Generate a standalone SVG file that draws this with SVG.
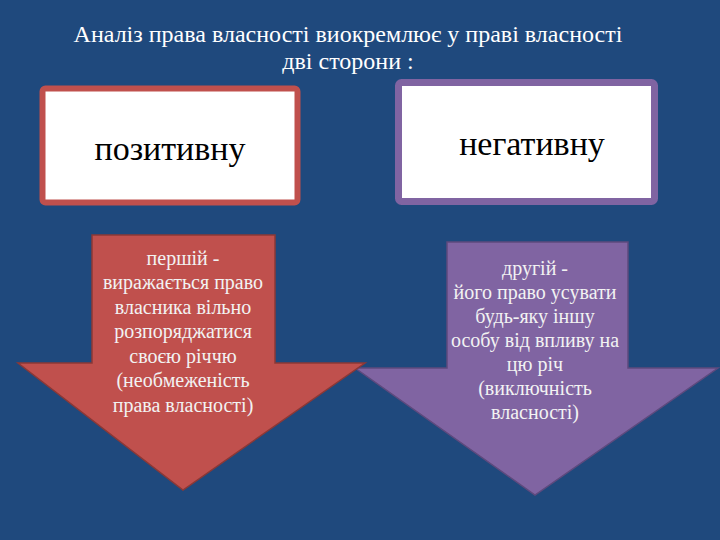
<svg xmlns="http://www.w3.org/2000/svg" width="720" height="540" viewBox="0 0 720 540">
<style>
text{font-family:"Liberation Serif","Times New Roman","DejaVu Serif",serif}
.title{font-size:24px;fill:#ffffff;text-anchor:middle}
.box{font-size:34px;fill:#000000;text-anchor:middle}
.arr{font-size:20px;fill:#f2f2f2;text-anchor:middle}
</style>
<rect x="0" y="0" width="720" height="540" fill="#1f497d"/>
<g id="title">
<text class="title" x="348" y="42">Аналіз права власності виокремлює у праві власності</text>
<text class="title" x="348" y="69">дві сторони :</text>
</g>
<g id="node-positive">
<rect x="42.5" y="88.5" width="255" height="114" rx="3" fill="#ffffff" stroke="#c0504d" stroke-width="6"/>
<text class="box" x="170" y="160">позитивну</text>
</g>
<g id="node-negative">
<rect x="398.5" y="82.5" width="256" height="119" rx="3" fill="#ffffff" stroke="#8064a2" stroke-width="7"/>
<text class="box" x="532" y="155">негативну</text>
</g>
<g id="node-second">
<polygon points="447,242 628,242 628,368 718,368 535,495 355,368 447,368" fill="#8064a2" stroke="#5e4a7e" stroke-width="1.5"/>
<text class="arr" x="535" y="275">другій -</text>
<text class="arr" x="535" y="299">його право усувати</text>
<text class="arr" x="535" y="323">будь-яку іншу</text>
<text class="arr" x="535" y="347">особу від впливу на</text>
<text class="arr" x="535" y="371">цю річ</text>
<text class="arr" x="535" y="395">(виключність</text>
<text class="arr" x="535" y="419">власності)</text>
</g>
<g id="node-first">
<polygon points="92,235 275,235 275,363 365,363 183,490 18,363 92,363" fill="#c0504d" stroke="#8c3836" stroke-width="1.5"/>
<text class="arr" x="183" y="265">першій -</text>
<text class="arr" x="183" y="289">виражається право</text>
<text class="arr" x="183" y="314">власника вільно</text>
<text class="arr" x="183" y="338">розпоряджатися</text>
<text class="arr" x="183" y="363">своєю річчю</text>
<text class="arr" x="183" y="387">(необмеженість</text>
<text class="arr" x="183" y="412">права власності)</text>
</g>
<g id="connectors"></g>
</svg>
